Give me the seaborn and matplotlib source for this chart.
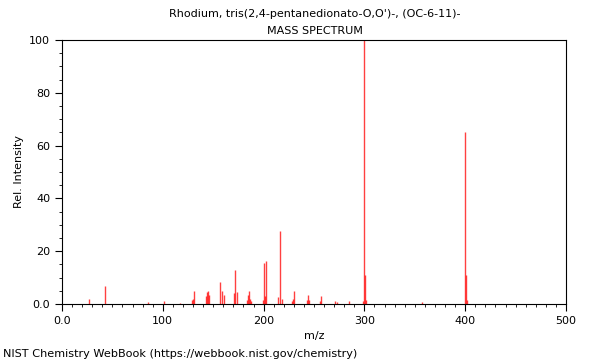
import matplotlib
matplotlib.use("Agg")
import matplotlib.pyplot as plt
from matplotlib.ticker import MultipleLocator, FixedFormatter, FixedLocator
import seaborn as sns
import pandas as pd

# Peak list
mz = [27, 43, 85, 101, 117, 129, 130, 131, 143, 144, 145, 146, 157, 159, 161,
      171, 172, 174, 184, 185, 186, 187, 188, 199, 200, 201, 202, 214, 216, 218,
      228, 229, 230, 243, 244, 245, 256, 257, 271, 273, 285, 299, 300, 301, 302,
      357, 400, 401, 402]
intensity = [2.0, 7.0, 0.8, 1.0, 0.5, 1.5, 2.0, 5.0, 3.0, 4.5, 5.0, 3.5, 8.3, 5.0, 3.5,
             4.0, 13.0, 4.5, 1.5, 3.5, 5.0, 2.0, 1.0, 1.5, 15.5, 3.0, 16.3, 2.5, 27.5, 2.0,
             1.0, 2.0, 5.0, 1.5, 3.5, 1.5, 1.0, 3.0, 1.0, 0.7, 1.3, 1.0, 100.0, 11.0, 1.5,
             0.8, 65.0, 11.0, 1.5]

title_lines = ["Rhodium, tris(2,4-pentanedionato-O,O')-, (OC-6-11)-", "MASS SPECTRUM"]
x_ticks = [0, 100, 200, 300, 400, 500]
x_tick_labels = ["0.0", "100", "200", "300", "400", "500"]
y_ticks = [0, 20, 40, 60, 80, 100]
y_tick_labels = ["0.0", "20", "40", "60", "80", "100"]

sns.set_style("ticks")
plt.rcParams['font.family'] = ['DejaVu Sans']
plt.rcParams['text.color'] = 'black'
plt.rcParams['axes.labelcolor'] = 'black'
plt.rcParams['xtick.color'] = 'black'
plt.rcParams['ytick.color'] = 'black'

df = pd.DataFrame({'mz': mz, 'intensity': intensity})

fig = plt.figure(figsize=(6, 3.6), dpi=100)
ax = fig.add_axes([0.1033, 0.1556, 0.84, 0.7333])

ax.vlines(df['mz'], 0, df['intensity'], color='#ff0000', linewidth=1.0, alpha=0.75)

ax.set_xlim(0, 500)
ax.set_ylim(0, 100)
ax.xaxis.set_major_locator(FixedLocator(x_ticks))
ax.xaxis.set_major_formatter(FixedFormatter(x_tick_labels))
ax.yaxis.set_major_locator(FixedLocator(y_ticks))
ax.yaxis.set_major_formatter(FixedFormatter(y_tick_labels))
ax.xaxis.set_minor_locator(MultipleLocator(10))
ax.yaxis.set_minor_locator(MultipleLocator(5))
ax.tick_params(which='major', length=5, width=0.8, labelsize=8, direction='out')
ax.tick_params(which='minor', length=2.5, width=0.6, direction='out')
for s in ax.spines.values():
    s.set_visible(True)
    s.set_linewidth(0.8)
    s.set_color('black')

ax.set_xlabel('m/z', fontsize=8)
ax.set_ylabel('Rel. Intensity', fontsize=8)

fig.text(0.525, 0.962, title_lines[0], ha='center', va='center', fontsize=8)
fig.text(0.525, 0.915, title_lines[1], ha='center', va='center', fontsize=8)
fig.text(0.005, 0.018, 'NIST Chemistry WebBook (https://webbook.nist.gov/chemistry)',
         ha='left', va='center', fontsize=8.1)

fig.savefig('out.png', dpi=100)
